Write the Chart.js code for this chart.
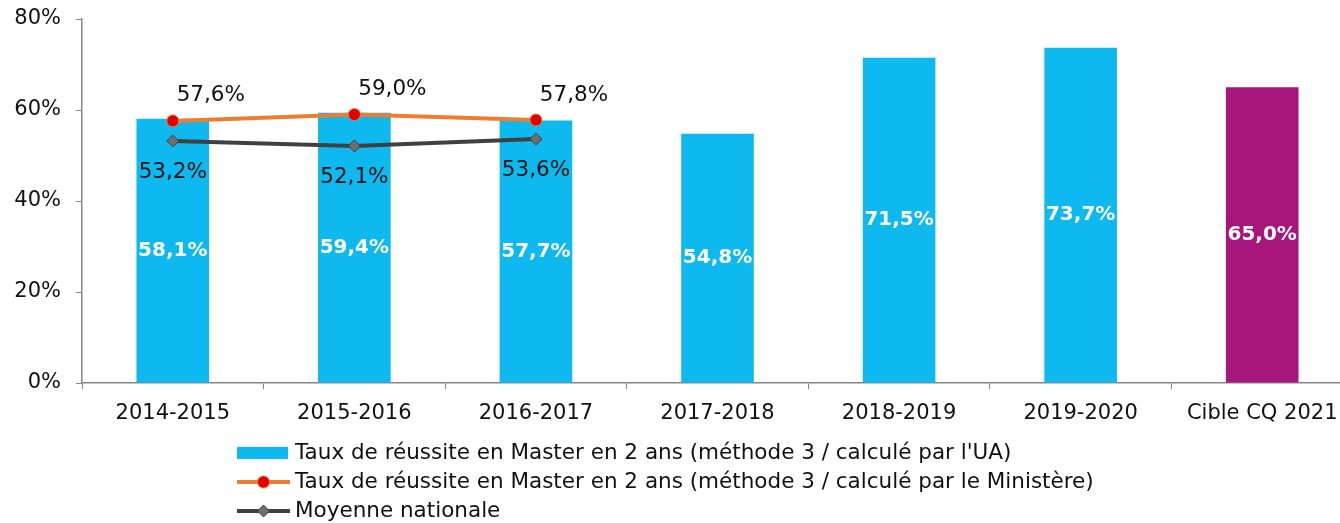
<!DOCTYPE html>
<html>
<head>
<meta charset="utf-8">
<script src="https://cdn.jsdelivr.net/npm/chart.js@4.4.1/dist/chart.umd.min.js"></script>
<style>
    html, body { margin: 0; padding: 0; background: #fff; overflow: hidden; }
    canvas { display: block; }
</style>
</head>
<body>
<canvas id="masterChart" width="1360" height="523"></canvas>
<script>
const YEARS = ['2014-2015', '2015-2016', '2016-2017', '2017-2018', '2018-2019', '2019-2020', 'Cible CQ 2021'];
const TAUX_UA = [58.1, 59.4, 57.7, 54.8, 71.5, 73.7, 65.0];
const TAUX_MINISTERE = [57.6, 59.0, 57.8, null, null, null, null];
const MOYENNE_NATIONALE = [53.2, 52.1, 53.6, null, null, null, null];
const Y_TICKS = [0, 20, 40, 60, 80];

const LABEL_UA = "Taux de réussite en Master en 2 ans (méthode 3 / calculé par l'UA)";
const LABEL_MIN = "Taux de réussite en Master en 2 ans (méthode 3 / calculé par le Ministère)";
const LABEL_NAT = 'Moyenne nationale';

const CYAN = '#0db9ee';
const PURPLE = '#a6167c';
const ORANGE = '#ed7d31';
const DARK = '#404040';
const FONT = '"DejaVu Sans", Verdana, sans-serif';

function pct(v) {
    return v.toFixed(1).replace('.', ',') + '%';
}

const barColors = YEARS.map((y, i) => i == YEARS.length - 1 ? PURPLE : CYAN);

// value labels, drawn by hand (no datalabels plugin available)
const valueLabels = {
    id: 'valueLabels',
    afterDatasetsDraw(chart) {
        const ctx = chart.ctx;
        ctx.save();
        ctx.textAlign = 'center';
        ctx.textBaseline = 'middle';

        ctx.font = 'bold 20px ' + FONT;
        ctx.fillStyle = '#ffffff';
        chart.getDatasetMeta(2).data.forEach((bar, i) => {
            ctx.fillText(pct(TAUX_UA[i]), bar.x, (bar.y + bar.base) / 2);
        });

        ctx.font = '21.5px ' + FONT;
        ctx.fillStyle = '#111111';
        chart.getDatasetMeta(0).data.forEach((pt, i) => {
            if (TAUX_MINISTERE[i] == null) return;
            ctx.fillText(pct(TAUX_MINISTERE[i]), pt.x + 38, pt.y - 25);
        });
        chart.getDatasetMeta(1).data.forEach((pt, i) => {
            if (MOYENNE_NATIONALE[i] == null) return;
            ctx.fillText(pct(MOYENNE_NATIONALE[i]), pt.x, pt.y + 31);
        });
        ctx.restore();
    }
};

// legend stacked on the left, like the original
const stackedLegend = {
    id: 'stackedLegend',
    afterDraw(chart) {
        const ctx = chart.ctx;
        const x0 = 237, x1 = 290, tx = 295;
        const rows = [453, 482, 511];
        ctx.save();
        ctx.font = '21.5px ' + FONT;
        ctx.textAlign = 'left';
        ctx.textBaseline = 'middle';

        // bars
        ctx.fillStyle = CYAN;
        ctx.fillRect(x0, rows[0] - 6, x1 - x0 - 2, 12);
        ctx.fillStyle = '#111111';
        ctx.fillText(LABEL_UA, tx, rows[0]);

        // ministere
        ctx.strokeStyle = ORANGE;
        ctx.lineWidth = 4;
        ctx.beginPath();
        ctx.moveTo(x0, rows[1]);
        ctx.lineTo(x1, rows[1]);
        ctx.stroke();
        ctx.fillStyle = '#e00000';
        ctx.strokeStyle = ORANGE;
        ctx.lineWidth = 1;
        ctx.beginPath();
        ctx.arc((x0 + x1) / 2, rows[1], 6, 0, Math.PI * 2);
        ctx.fill();
        ctx.stroke();
        ctx.fillStyle = '#111111';
        ctx.fillText(LABEL_MIN, tx, rows[1]);

        // moyenne
        ctx.strokeStyle = DARK;
        ctx.lineWidth = 4;
        ctx.beginPath();
        ctx.moveTo(x0, rows[2]);
        ctx.lineTo(x1, rows[2]);
        ctx.stroke();
        let cx = (x0 + x1) / 2;
        ctx.fillStyle = '#6e6e6e';
        ctx.strokeStyle = DARK;
        ctx.lineWidth = 1;
        ctx.beginPath();
        ctx.moveTo(cx, rows[2] - 6);
        ctx.lineTo(cx + 6, rows[2]);
        ctx.lineTo(cx, rows[2] + 6);
        ctx.lineTo(cx - 6, rows[2]);
        ctx.closePath();
        ctx.fill();
        ctx.stroke();
        ctx.fillStyle = '#111111';
        ctx.fillText(LABEL_NAT, tx, rows[2]);
        ctx.restore();
    }
};

const config = {
    data: {
        labels: YEARS,
        datasets: [
            {
                type: 'line',
                label: LABEL_MIN,
                data: TAUX_MINISTERE,
                borderColor: ORANGE,
                borderWidth: 4,
                pointBackgroundColor: '#e00000',
                pointBorderColor: ORANGE,
                pointBorderWidth: 1,
                pointRadius: 6,
                tension: 0,
                order: 1,
            },
            {
                type: 'line',
                label: LABEL_NAT,
                data: MOYENNE_NATIONALE,
                borderColor: DARK,
                borderWidth: 4,
                pointStyle: 'rectRot',
                pointBackgroundColor: '#6e6e6e',
                pointBorderColor: DARK,
                pointBorderWidth: 1,
                pointRadius: 6,
                tension: 0,
                order: 2,
            },
            {
                type: 'bar',
                label: LABEL_UA,
                data: TAUX_UA,
                backgroundColor: barColors,
                barPercentage: 0.4,
                categoryPercentage: 1.0,
                order: 3,
            },
        ]
    },
    options: {
        responsive: false,
        animation: false,
        layout: {
            padding: { left: 0, top: 19, right: 5, bottom: 90 }
        },
        plugins: {
            legend: { display: false },
            tooltip: { enabled: false },
        },
        scales: {
            x: {
                offset: true,
                grid: {
                    offset: true,
                    drawOnChartArea: false,
                    drawTicks: true,
                    tickLength: 6,
                    color: '#868686',
                },
                border: { color: '#868686', width: 1.5 },
                ticks: {
                    color: '#111111',
                    font: { family: FONT, size: 21 },
                    padding: 12,
                    maxRotation: 0,
                    autoSkip: false,
                },
                afterFit: (scale) => { scale.height = 50; },
            },
            y: {
                min: 0,
                max: 80,
                afterBuildTicks: (scale) => { scale.ticks = Y_TICKS.map(v => ({ value: v })); },
                grid: {
                    drawOnChartArea: false,
                    drawTicks: true,
                    tickLength: 6,
                    color: '#868686',
                },
                border: { color: '#868686', width: 1.5 },
                ticks: {
                    color: '#111111',
                    font: { family: FONT, size: 21 },
                    padding: 15,
                    callback: (v) => v + '%',
                },
                afterFit: (scale) => {
                    scale.width = 82;
                    scale.paddingTop = 0;
                    scale.paddingBottom = 0;
                },
            }
        }
    },
    plugins: [valueLabels, stackedLegend]
};

new Chart(document.getElementById('masterChart').getContext('2d'), config);
</script>
</body>
</html>
